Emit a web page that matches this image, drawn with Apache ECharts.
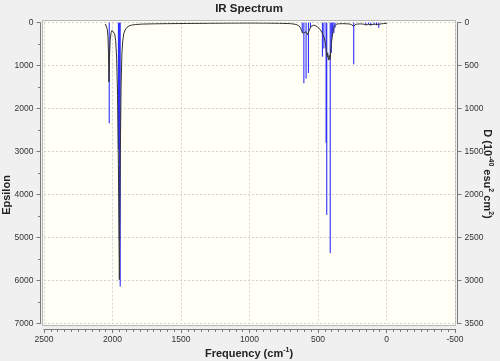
<!DOCTYPE html>
<html><head><meta charset="utf-8">
<script src="https://cdn.jsdelivr.net/npm/echarts@6/dist/echarts.min.js"></script>
<style>html,body{margin:0;padding:0;background:#f0f0f0;}#c{width:500px;height:361px;}</style>
</head><body><div id="c"></div>
<script>
// Broadened spectrum (left axis, Epsilon)
const curveFreq = [2052,2044,2038,2033,2029,2026,2022,2017,2010,2003,1998,1991,1984,1977,1970,1963,1957,1950,1943,1937,1931,1925,1918,1908,1895,1880,1860,1830,1780,1700,1600,1450,1300,1150,1000,880,780,700,660,640,628,618,608,601,595,589,583,576,569,561,552,542,530,518,506,494,482,471,461,452,445,439,434,429,424,418,412,406,400,393,387,381,373,362,345,320,295,270,255,246,240,234,225,210,190,170,158,150,142,130,118,105,95,85,72,62,50,35,20,8,-5];
const curveEps  = [30,70,150,330,700,1380,800,400,230,180,170,190,260,420,800,1700,3300,5980,3000,1400,700,420,260,170,110,75,55,42,32,26,22,18,14,10,8,10,14,22,40,70,120,190,250,280,250,210,230,280,240,150,90,60,55,65,90,120,170,230,300,380,500,660,800,700,870,760,860,620,420,260,150,80,45,30,25,22,25,30,45,70,85,65,40,30,28,32,45,50,40,42,35,45,40,35,50,40,30,25,20,15,12];
// Stick intensities (right axis, D)
const stickFreq = [2024,1957,1950,1944,615,603,587,570,555,468,457,441,436,411,403,395,384,376,239,151,132,115,91,73,56];
const stickD    = [1170,1480,2530,3070,120,705,650,585,60,395,300,1395,2236,2681,350,150,120,60,484,27,15,35,20,30,60];
// Axis ranges / ticks
const freqRange = [-500, 2500], freqStep = 500;
const epsRange = [0, 7000], epsStep = 1000;
const dRange = [0, 3500], dStep = 500;

const FONT = '"Liberation Sans", Arial, sans-serif';
const axisCol = '#7a7a7a';
const labelStyle = {fontSize: 8.5, color: '#333', fontFamily: FONT, formatter: v => String(v)};
const chart = echarts.init(document.getElementById('c'), null, {renderer: 'canvas'});
chart.setOption({
  animation: false,
  backgroundColor: '#f0f0f0',
  grid: {left: 44, right: 45, top: 22.7, bottom: 37.5, outerBoundsMode: 'none', containLabel: false},
  graphic: [
    {type: 'rect', z: -10, silent: true, shape: {x: 42.5, y: 20.5, width: 413, height: 305},
     style: {fill: '#fffff6', stroke: '#b5b5b5', lineWidth: 1}},
    {type: 'text', x: 249, y: 9, silent: true,
     style: {text: 'IR Spectrum', fontSize: 11.5, fontWeight: 'bold', fontFamily: FONT, fill: '#222', align: 'center', verticalAlign: 'middle'}},
    {type: 'text', x: 249, y: 353, silent: true,
     style: {text: '{n|Frequency (cm}{s|-1}{n|)}', fontFamily: FONT, fill: '#222', align: 'center', verticalAlign: 'middle',
       rich: {n: {fontSize: 11, fontWeight: 'bold', fontFamily: FONT, fill: '#222', verticalAlign: 'bottom', lineHeight: 13},
              s: {fontSize: 7, fontWeight: 'bold', fontFamily: FONT, fill: '#222', verticalAlign: 'top', lineHeight: 13}}}},
    {type: 'text', x: 7, y: 195, rotation: Math.PI / 2, silent: true,
     style: {text: 'Epsilon', fontSize: 11, fontWeight: 'bold', fontFamily: FONT, fill: '#222', align: 'center', verticalAlign: 'middle'}},
    {type: 'text', x: 488, y: 174, rotation: -Math.PI / 2, silent: true,
     style: {text: '{n|D (10}{s|-40}{n| esu}{s|2}{n| cm}{s|2}{n|)}', fontFamily: FONT, fill: '#222', align: 'center', verticalAlign: 'middle',
       rich: {n: {fontSize: 11, fontWeight: 'bold', fontFamily: FONT, fill: '#222', verticalAlign: 'bottom', lineHeight: 13},
              s: {fontSize: 7, fontWeight: 'bold', fontFamily: FONT, fill: '#222', verticalAlign: 'top', lineHeight: 13}}}}
  ],
  xAxis: {
    type: 'value', min: freqRange[0], max: freqRange[1], interval: freqStep, inverse: true,
    position: 'bottom', offset: 5.5,
    axisLine: {show: true, onZero: false, lineStyle: {color: axisCol}},
    axisTick: {show: true, length: 4, lineStyle: {color: axisCol}},
    minorTick: {show: true, splitNumber: 10, length: 3, lineStyle: {color: axisCol}},
    axisLabel: Object.assign({margin: 6}, labelStyle),
    splitLine: {show: true, lineStyle: {type: [2, 2], color: '#d2d2d2'}}
  },
  yAxis: [{
    type: 'value', min: epsRange[0], max: epsRange[1], interval: epsStep, inverse: true,
    position: 'left', offset: 3.5,
    axisLine: {show: true, onZero: false, lineStyle: {color: axisCol}},
    axisTick: {show: true, length: 4, lineStyle: {color: axisCol}},
    minorTick: {show: true, splitNumber: 2, length: 2.5, lineStyle: {color: axisCol}},
    axisLabel: Object.assign({margin: 7}, labelStyle),
    splitLine: {show: true, lineStyle: {type: [2, 2], color: '#d2d2d2'}}
  }, {
    type: 'value', min: dRange[0], max: dRange[1], interval: dStep, inverse: true,
    position: 'right', offset: 2.5,
    axisLine: {show: true, onZero: false, lineStyle: {color: axisCol}},
    axisTick: {show: true, length: 4, lineStyle: {color: axisCol}},
    axisLabel: Object.assign({margin: 7}, labelStyle),
    splitLine: {show: false}
  }],
  series: [{
    type: 'custom', xAxisIndex: 0, yAxisIndex: 1, silent: true, z: 2,
    data: stickFreq.map((f, i) => [f, stickD[i]]),
    renderItem: function (params, api) {
      const p0 = api.coord([api.value(0), 0]);
      const p1 = api.coord([api.value(0), api.value(1)]);
      return {type: 'line', shape: {x1: p0[0], y1: p0[1], x2: p1[0], y2: p1[1]},
              style: {stroke: '#1a1aff', lineWidth: 1}};
    }
  }, {
    type: 'line', xAxisIndex: 0, yAxisIndex: 0, silent: true, z: 3,
    data: curveFreq.map((f, i) => [f, curveEps[i]]),
    showSymbol: false, symbol: 'none',
    lineStyle: {color: '#333', width: 1}
  }]
});
</script></body></html>
